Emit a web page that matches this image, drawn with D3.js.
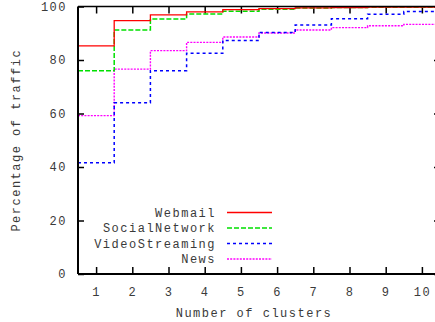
<!DOCTYPE html>
<html>
<head>
<meta charset="utf-8">
<script src="https://cdn.jsdelivr.net/npm/d3@7"></script>
<style>
  html, body { margin: 0; padding: 0; background: #fff; }
  svg { display: block; }
  text { font-family: "Liberation Mono", "DejaVu Sans Mono", monospace; fill: #3a3a3a; }
</style>
</head>
<body>
<svg id="chart" width="435" height="322"></svg>
<script>
// Number of clusters on the x axis
const clusters = [1, 2, 3, 4, 5, 6, 7, 8, 9, 10];

// Cumulative percentage of traffic covered per application class
const webmail       = [85.3, 94.7, 96.9, 98.0, 98.8, 99.2, 99.5, 99.6, 99.8, 99.8];
const socialNetwork = [76.0, 91.2, 95.3, 97.2, 98.2, 99.0, 99.4, 99.6, 99.7, 99.7];
const videoStream   = [41.6, 64.0, 76.0, 82.5, 87.3, 90.3, 93.1, 95.4, 97.1, 98.1];
const news          = [59.2, 76.6, 83.5, 86.6, 88.6, 90.1, 91.2, 92.1, 92.8, 93.3];

const seriesNames = ["Webmail", "SocialNetwork", "VideoStreaming", "News"];
const yTicks = [0, 20, 40, 60, 80, 100];

const series = [
  { name: seriesNames[0], values: webmail,       color: "#ff0000", dash: null,    width: 1.3 },
  { name: seriesNames[1], values: socialNetwork, color: "#00e000", dash: "5,2",   width: 1.5 },
  { name: seriesNames[2], values: videoStream,   color: "#0000ff", dash: "3,3",   width: 1.5 },
  { name: seriesNames[3], values: news,          color: "#ff00ff", dash: "2,1.2", width: 1.4 }
];

const svg = d3.select("#chart");
const plotL = 78, plotR = 440, plotT = 6.5, plotB = 274;

const x = d3.scaleLinear().domain([0.5, 10.5]).range([plotL, plotR]);
const y = d3.scaleLinear().domain([0, 100]).range([plotB, plotT]);

const fontSize = "12px";
const spacing = "1.5px";

// Y axis (ticks point inward)
const yAxis = svg.append("g")
  .attr("transform", `translate(${plotL},0)`)
  .call(d3.axisLeft(y).tickValues(yTicks).tickSize(-6).tickPadding(11));
yAxis.select(".domain").remove();
yAxis.selectAll("line").attr("stroke", "#000").attr("stroke-width", 1.5);
yAxis.selectAll("text").attr("font-size", fontSize).attr("letter-spacing", spacing).attr("fill", "#3a3a3a");

// Mirror ticks on the right side
const yAxisR = svg.append("g")
  .attr("transform", `translate(${plotR},0)`)
  .call(d3.axisRight(y).tickValues(yTicks).tickSize(-6).tickFormat(""));
yAxisR.select(".domain").remove();
yAxisR.selectAll("line").attr("stroke", "#000").attr("stroke-width", 1.5);

// X axis
const xAxis = svg.append("g")
  .attr("transform", `translate(0,${plotB})`)
  .call(d3.axisBottom(x).tickValues(clusters).tickSize(-7).tickPadding(13));
xAxis.select(".domain").remove();
xAxis.selectAll("line").attr("stroke", "#000").attr("stroke-width", 1.5);
xAxis.selectAll("text").attr("font-size", fontSize).attr("letter-spacing", spacing).attr("fill", "#3a3a3a");

const xAxisT = svg.append("g")
  .attr("transform", `translate(0,${plotT})`)
  .call(d3.axisTop(x).tickValues(clusters).tickSize(-7).tickFormat(""));
xAxisT.select(".domain").remove();
xAxisT.selectAll("line").attr("stroke", "#000").attr("stroke-width", 1.5);

// Step lines: each cluster count holds its value across [n-0.5, n+0.5]
const line = d3.line()
  .x(d => x(d[0]))
  .y(d => y(d[1]))
  .curve(d3.curveStepAfter);

const plot = svg.append("g");
series.slice().reverse().forEach(s => {
  const pts = clusters.map((c, i) => [c - 0.5, s.values[i]]);
  pts.push([clusters[clusters.length - 1] + 0.5, s.values[s.values.length - 1]]);
  plot.append("path")
    .attr("d", line(pts))
    .attr("fill", "none")
    .attr("stroke", s.color)
    .attr("stroke-width", s.width)
    .attr("stroke-dasharray", s.dash);
});

// Frame: left, bottom and top borders
svg.append("line").attr("x1", plotL).attr("x2", plotL).attr("y1", plotT).attr("y2", plotB)
  .attr("stroke", "#000").attr("stroke-width", 2);
svg.append("line").attr("x1", plotL).attr("x2", plotR).attr("y1", plotB).attr("y2", plotB)
  .attr("stroke", "#000").attr("stroke-width", 2);
svg.append("line").attr("x1", plotL).attr("x2", plotR).attr("y1", plotT).attr("y2", plotT)
  .attr("stroke", "#000").attr("stroke-width", 1.5);

// Legend
const legendY = [212.5, 228, 243.5, 259];
series.forEach((s, i) => {
  svg.append("text")
    .attr("x", 216).attr("y", legendY[i])
    .attr("dy", "0.35em")
    .attr("text-anchor", "end")
    .attr("font-size", fontSize).attr("letter-spacing", spacing)
    .text(s.name);
  svg.append("line")
    .attr("x1", 227).attr("x2", 272)
    .attr("y1", legendY[i]).attr("y2", legendY[i])
    .attr("stroke", s.color).attr("stroke-width", s.width)
    .attr("stroke-dasharray", s.dash);
});

// Axis titles
svg.append("text")
  .attr("x", 254).attr("y", 317)
  .attr("text-anchor", "middle")
  .attr("font-size", fontSize).attr("letter-spacing", spacing)
  .text("Number of clusters");

svg.append("text")
  .attr("transform", `translate(20,${(plotT + plotB) / 2}) rotate(-90)`)
  .attr("text-anchor", "middle")
  .attr("font-size", fontSize).attr("letter-spacing", spacing)
  .text("Percentage of traffic");
</script>
</body>
</html>
